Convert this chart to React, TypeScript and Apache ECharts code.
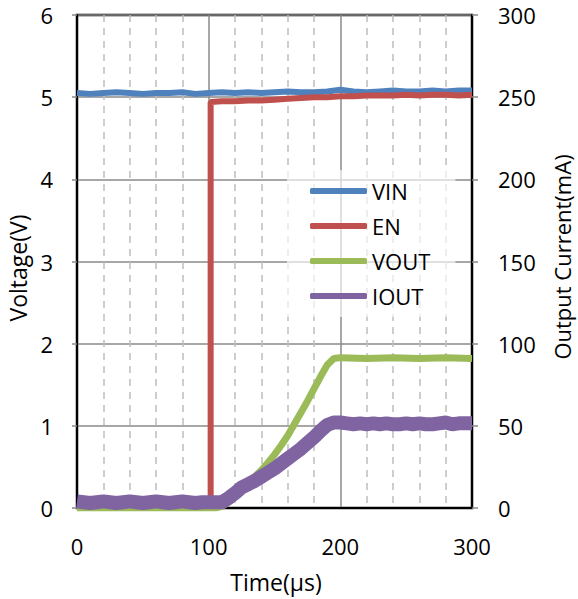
import React, { useEffect, useRef } from "react";
import * as echarts from "echarts";

const FONT = "'Open Sans', 'DejaVu Sans', sans-serif";

const seriesNames = ["VIN", "EN", "VOUT", "IOUT"];
const xTickLabels = ["0", "100", "200", "300"];

const vinTime = [0, 10, 20, 30, 40, 50, 60, 70, 80, 90, 100, 110, 120, 130, 140, 150, 160, 170, 180, 190, 200, 210, 220, 230, 240, 250, 260, 270, 280, 290, 300];
const vinValues = [5.05, 5.04, 5.05, 5.06, 5.05, 5.04, 5.05, 5.05, 5.06, 5.04, 5.05, 5.06, 5.05, 5.06, 5.05, 5.06, 5.07, 5.06, 5.06, 5.07, 5.09, 5.07, 5.06, 5.07, 5.08, 5.07, 5.07, 5.08, 5.07, 5.08, 5.08];

const enTime = [0, 101.5, 101.5, 110, 120, 130, 140, 150, 160, 170, 180, 190, 200, 210, 220, 230, 240, 250, 260, 270, 280, 290, 300];
const enValues = [0, 0, 4.94, 4.95, 4.95, 4.96, 4.96, 4.97, 4.98, 4.99, 5.0, 5.0, 5.01, 5.01, 5.02, 5.02, 5.02, 5.03, 5.02, 5.03, 5.03, 5.02, 5.03];

const voutTime = [0, 100, 105, 110, 115, 120, 125, 130, 135, 140, 145, 150, 155, 160, 165, 170, 175, 180, 185, 190, 195, 200, 220, 240, 260, 280, 300];
const voutValues = [0, 0, 0, 0.02, 0.07, 0.14, 0.22, 0.3, 0.38, 0.46, 0.55, 0.65, 0.76, 0.88, 1.02, 1.16, 1.3, 1.45, 1.6, 1.74, 1.82, 1.83, 1.82, 1.83, 1.82, 1.83, 1.82];

const ioutTime = [0, 5, 10, 15, 20, 25, 30, 35, 40, 45, 50, 55, 60, 65, 70, 75, 80, 85, 90, 95, 100, 105, 110, 115, 120, 125, 130, 135, 140, 145, 150, 155, 160, 165, 170, 175, 180, 185, 190, 195, 200, 205, 210, 215, 220, 225, 230, 235, 240, 245, 250, 255, 260, 265, 270, 275, 280, 285, 290, 295, 300];
const ioutValues = [4, 3.5, 3, 3.5, 4, 3.5, 3, 3.5, 4, 3.5, 3, 3.5, 4, 3.5, 3, 3.5, 4, 3.5, 3, 3.5, 3.5, 3.5, 3.5, 6, 9, 12.5, 14.5, 16.5, 19, 21.5, 24, 27, 30, 33, 36, 39.5, 43, 47, 50.5, 52, 52, 51.5, 51, 51.5, 51, 51.5, 51, 51.5, 51, 51, 51.5, 51, 51.5, 51, 51, 51.5, 52, 51, 51.5, 51.5, 51.5];

const colors = ["#4F81BD", "#C0504D", "#9BBB59", "#8064A2"];

function pairs(t: number[], v: number[]) {
  return t.map((x, i) => [x, v[i]]);
}

export default function App() {
  const ref = useRef<HTMLDivElement>(null);
  useEffect(() => {
    document.body.style.margin = "0";
    if (!ref.current) return;
    const chart = echarts.init(ref.current, null, { renderer: "svg" });
    chart.setOption({
      animation: false,
      textStyle: { fontFamily: FONT },
      grid: {
        left: 77, top: 15, right: 106, bottom: 91,
        show: true, borderColor: "#000", borderWidth: 2.5, backgroundColor: "transparent",
      },
      legend: {
        data: seriesNames,
        orient: "vertical",
        left: 287,
        top: 170,
        padding: [10, 25, 10, 23],
        itemWidth: 57,
        itemHeight: 6,
        itemGap: 13,
        icon: "roundRect",
        backgroundColor: "rgba(255,255,255,0.65)",
        textStyle: { fontSize: 22, color: "#000", fontFamily: FONT, lineHeight: 22 },
      },
      xAxis: {
        type: "value",
        min: 0,
        max: 300,
        interval: 100,
        axisLine: { show: true, lineStyle: { color: "#000", width: 2 } },
        axisTick: { show: false },
        minorTick: { show: false, splitNumber: 5 },
        axisLabel: {
          fontSize: 22, color: "#000", margin: 27, fontFamily: FONT,
          formatter: (v: number) => xTickLabels[Math.round(v / 100)] ?? String(v),
        },
        splitLine: { show: true, lineStyle: { color: "#8a8a8a", width: 1.5 } },
        minorSplitLine: { show: true, lineStyle: { color: "#bdbdbd", width: 1.5, type: [7, 6] } },
      },
      yAxis: [
        {
          type: "value",
          min: 0,
          max: 6,
          interval: 1,
          position: "left",
          axisLine: { show: true, lineStyle: { color: "#000", width: 2 } },
          axisTick: { show: true, length: 5, lineStyle: { color: "#8a8a8a", width: 1.5 } },
          axisLabel: { fontSize: 22, color: "#000", margin: 24, fontFamily: FONT },
          splitLine: { show: true, lineStyle: { color: "#8a8a8a", width: 1.5 } },
        },
        {
          type: "value",
          min: 0,
          max: 300,
          interval: 50,
          position: "right",
          axisLine: { show: true, lineStyle: { color: "#000", width: 2 } },
          axisTick: { show: true, length: 6, lineStyle: { color: "#8a8a8a", width: 1.5 } },
          axisLabel: { fontSize: 22, color: "#000", margin: 26, fontFamily: FONT },
          splitLine: { show: false },
        },
      ],
      graphic: [
        {
          type: "text", x: 18, y: 268, rotation: Math.PI / 2,
          style: { text: "Voltage(V)", fontSize: 23, fill: "#000", fontFamily: FONT, align: "center", verticalAlign: "middle" },
        },
        {
          type: "text", x: 562, y: 257, rotation: Math.PI / 2,
          style: { text: "Output Current(mA)", fontSize: 22, fill: "#000", fontFamily: FONT, align: "center", verticalAlign: "middle" },
        },
        {
          type: "text", x: 276, y: 582,
          style: { text: "Time(μs)", fontSize: 23, fill: "#000", fontFamily: FONT, align: "center", verticalAlign: "middle" },
        },
      ],
      series: [
        {
          name: "VIN", type: "line", yAxisIndex: 0, showSymbol: false, symbol: "none",
          data: pairs(vinTime, vinValues), lineStyle: { color: colors[0], width: 6 }, itemStyle: { color: colors[0] },
        },
        {
          name: "EN", type: "line", yAxisIndex: 0, showSymbol: false, symbol: "none",
          data: pairs(enTime, enValues), lineStyle: { color: colors[1], width: 6 }, itemStyle: { color: colors[1] },
        },
        {
          name: "VOUT", type: "line", yAxisIndex: 0, showSymbol: false, symbol: "none",
          data: pairs(voutTime, voutValues), lineStyle: { color: colors[2], width: 7 }, itemStyle: { color: colors[2] },
        },
        {
          name: "IOUT", type: "line", yAxisIndex: 1, showSymbol: false, symbol: "none",
          data: pairs(ioutTime, ioutValues), lineStyle: { color: colors[3], width: 14 }, itemStyle: { color: colors[3] },
        },
      ],
    });
    return () => chart.dispose();
  }, []);
  return <div ref={ref} style={{ width: 578, height: 599 }} />;
}
